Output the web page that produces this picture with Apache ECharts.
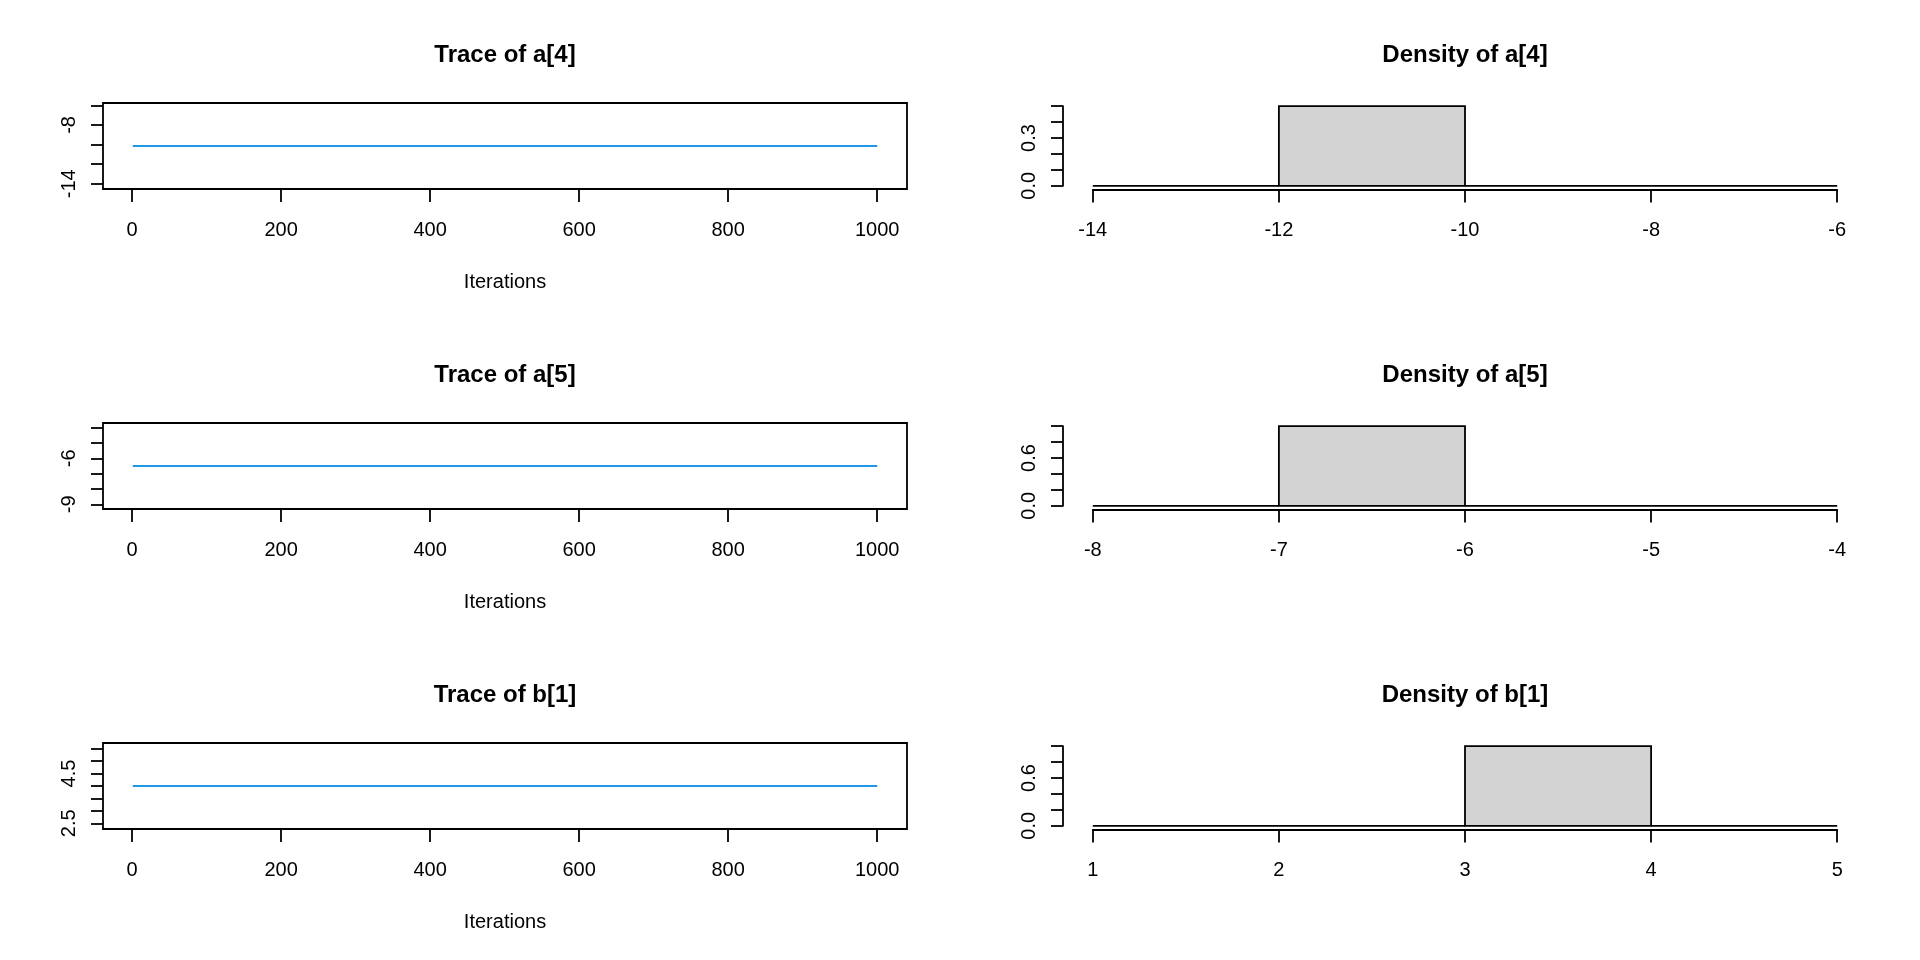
<!DOCTYPE html>
<html>
<head>
<meta charset="utf-8">
<script src="https://cdn.jsdelivr.net/npm/echarts@6/dist/echarts.min.js"></script>
<style>
html,body{margin:0;padding:0;background:#fff;}
#chart{width:1920px;height:960px;}
</style>
</head>
<body>
<div id="chart"></div>
<script>
// ---- data ----
const paramNames = ['a[4]', 'a[5]', 'b[1]'];
const iterations = [1, 1000];
const traceA4 = [-10.15, -10.15];
const traceA5 = [-6.5, -6.5];
const traceB1 = [4.0, 4.0];
const traceXTicks = [0, 200, 400, 600, 800, 1000];

const breaksA4 = [-14, -12, -10, -8, -6];
const densA4 = [0, 0.5, 0, 0];
const breaksA5 = [-8, -7, -6, -5, -4];
const densA5 = [0, 1, 0, 0];
const breaksB1 = [1, 2, 3, 4, 5];
const densB1 = [0, 0, 1, 0];

const traceYTicksA4 = [-14, -12, -10, -8, -6];
const traceYLabelsA4 = [-14, -8];
const traceYTicksA5 = [-9, -8, -7, -6, -5, -4];
const traceYLabelsA5 = [-9, -6];
const traceYTicksB1 = [2.5, 3, 3.5, 4, 4.5, 5, 5.5];
const traceYLabelsB1 = [2.5, 4.5];

const densYTicksA4 = [0, 0.1, 0.2, 0.3, 0.4, 0.5];
const densYLabelsA4 = [0, 0.3];
const densYTicks1 = [0, 0.2, 0.4, 0.6, 0.8, 1.0];
const densYLabels1 = [0, 0.6];

// ---- layout ----
const FONT = 'Liberation Sans';
const colLeft = [103, 1063];
const regW = 804, regH = 86, rowH = 320, regTop0 = 103;
const ext = 0.04 / 1.08;
const LW = 1.8;

function rRange(c) {
  const t = 0.4 * Math.abs(c);
  const lo = c - t, hi = c + t, e = 0.04 * (hi - lo);
  return [lo - e, hi + e];
}

const traces = [traceA4, traceA5, traceB1];
const tYT = [traceYTicksA4, traceYTicksA5, traceYTicksB1];
const tYL = [traceYLabelsA4, traceYLabelsA5, traceYLabelsB1];
const breaks = [breaksA4, breaksA5, breaksB1];
const dens = [densA4, densA5, densB1];
const dYT = [densYTicksA4, densYTicks1, densYTicks1];
const dYL = [densYLabelsA4, densYLabels1, densYLabels1];

const grids = [], xAxes = [], yAxes = [], series = [], graphics = [];
const axisLabelBase = {color: '#000', fontFamily: FONT, fontSize: 20};
const lineStyle = {color: '#000', width: LW};

function fmt(v) {
  if (Number.isInteger(v)) return String(v);
  return v.toFixed(1);
}
function fmtD(v) { return v.toFixed(1); }

for (let r = 0; r < 3; r++) {
  const top = regTop0 + rowH * r;
  // ---- trace panel ----
  const gi = grids.length;
  grids.push({left: colLeft[0], top: top, width: regW, height: regH, show: true,
    borderColor: '#000', borderWidth: LW, backgroundColor: 'transparent', containLabel: false});
  const xmin = iterations[0] - 0.04 * (iterations[1] - iterations[0]);
  const xmax = iterations[1] + 0.04 * (iterations[1] - iterations[0]);
  xAxes.push({type: 'value', gridIndex: gi, min: xmin, max: xmax, position: 'bottom',
    axisLine: {show: false, onZero: false}, splitLine: {show: false},
    axisTick: {show: true, inside: false, length: 13, lineStyle: lineStyle, customValues: traceXTicks},
    axisLabel: Object.assign({}, axisLabelBase, {margin: 31, customValues: traceXTicks, formatter: fmt})});
  const yr = rRange(traces[r][0]);
  yAxes.push({type: 'value', gridIndex: gi, min: yr[0], max: yr[1], position: 'left',
    axisLine: {show: false, onZero: false}, splitLine: {show: false},
    axisTick: {show: true, inside: false, length: 12, lineStyle: lineStyle, customValues: tYT[r]},
    axisLabel: Object.assign({}, axisLabelBase, {margin: 24, rotate: 90, customValues: tYL[r], formatter: fmt})});
  series.push({type: 'line', xAxisIndex: gi, yAxisIndex: gi, showSymbol: false, silent: true,
    lineStyle: {color: '#2297E6', width: 2}, data: iterations.map((x, k) => [x, traces[r][k]])});
  graphics.push({type: 'text', x: colLeft[0] + regW / 2, y: rowH * r + 55,
    style: {text: 'Trace of ' + paramNames[r], font: 'bold 24px ' + FONT, fill: '#000', textAlign: 'center', textVerticalAlign: 'middle'}});
  graphics.push({type: 'text', x: colLeft[0] + regW / 2, y: rowH * r + 282,
    style: {text: 'Iterations', font: '20px ' + FONT, fill: '#000', textAlign: 'center', textVerticalAlign: 'middle'}});

  // ---- density panel ----
  const di = grids.length;
  const dl = colLeft[1] + regW * ext, dw = regW / 1.08;
  const dt = top + regH * ext, dh = regH / 1.08;
  grids.push({left: dl, top: dt, width: dw, height: dh, show: false, containLabel: false});
  const b = breaks[r];
  xAxes.push({type: 'value', gridIndex: di, min: b[0], max: b[b.length - 1], position: 'bottom',
    offset: (top + regH) - (dt + dh) + 0.5,
    axisLine: {show: true, onZero: false, lineStyle: lineStyle}, splitLine: {show: false},
    axisTick: {show: true, length: 13, lineStyle: lineStyle, customValues: b},
    axisLabel: Object.assign({}, axisLabelBase, {margin: 31, customValues: b, formatter: fmt})});
  const yT = dYT[r];
  yAxes.push({type: 'value', gridIndex: di, min: 0, max: yT[yT.length - 1], position: 'left',
    offset: dl - colLeft[1],
    axisLine: {show: true, onZero: false, lineStyle: lineStyle}, splitLine: {show: false},
    axisTick: {show: true, length: 12, lineStyle: lineStyle, customValues: yT},
    axisLabel: Object.assign({}, axisLabelBase, {margin: 24, rotate: 90, customValues: dYL[r], formatter: fmtD})});
  const binData = dens[r].map((d, k) => [b[k], b[k + 1], d]);
  series.push({type: 'custom', xAxisIndex: di, yAxisIndex: di, silent: true, clip: false,
    data: binData,
    renderItem: function (params, api) {
      const p0 = api.coord([api.value(0), api.value(2)]);
      const p1 = api.coord([api.value(1), 0]);
      return {type: 'rect',
        shape: {x: p0[0], y: p0[1], width: p1[0] - p0[0], height: p1[1] - p0[1]},
        style: {fill: '#D3D3D3', stroke: '#000', lineWidth: LW}};
    }});
  graphics.push({type: 'text', x: colLeft[1] + regW / 2, y: rowH * r + 55,
    style: {text: 'Density of ' + paramNames[r], font: 'bold 24px ' + FONT, fill: '#000', textAlign: 'center', textVerticalAlign: 'middle'}});
}

const chart = echarts.init(document.getElementById('chart'), null, {renderer: 'canvas'});
chart.setOption({
  animation: false,
  backgroundColor: '#fff',
  grid: grids, xAxis: xAxes, yAxis: yAxes, series: series,
  graphic: graphics
});
</script>
</body>
</html>
